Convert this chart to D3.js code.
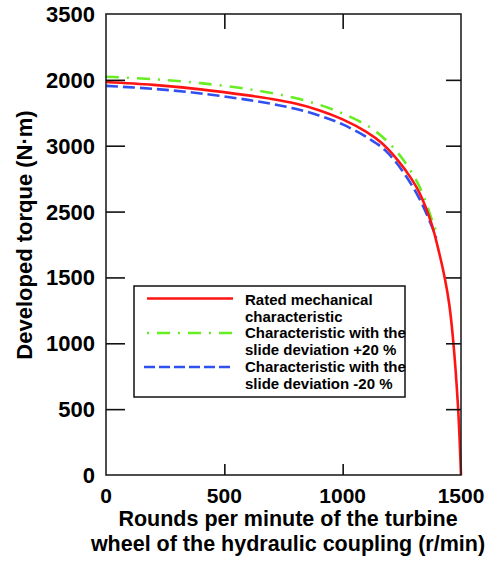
<!DOCTYPE html>
<html><head><meta charset="utf-8">
<script src="https://cdn.jsdelivr.net/npm/d3@7"></script>
<style>body{margin:0;background:#fff}svg{display:block}text{font-family:"Liberation Sans",Arial,sans-serif;fill:#000}</style>
</head><body><div id="chart"></div>
<script>
// ---- data ----
const xTicks = [0, 500, 1000, 1500];
const yTickValues = [0, 500, 1000, 1500, 2000, 2500, 3000, 3500];
const yTickLabels = ["0", "500", "1000", "1500", "2500", "3000", "2000", "3500"];
const rpmRated = [0, 200, 400, 600, 700, 800, 900, 1000, 1100, 1165, 1235, 1290, 1325, 1375, 1410, 1432, 1450, 1466, 1487, 1500];
const torqueRated = [2984, 2962, 2928, 2882, 2855, 2820, 2770, 2700, 2605, 2520, 2385, 2250, 2140, 1911, 1670, 1490, 1300, 1040, 530, 0];
const rpmPlus = [0, 200, 400, 600, 700, 800, 900, 1000, 1115, 1190, 1255, 1327, 1382, 1395];
const torquePlus = [3024, 3005, 2975, 2930, 2900, 2862, 2812, 2745, 2640, 2530, 2395, 2180, 1913, 1850];
const rpmMinus = [0, 200, 400, 600, 700, 800, 900, 1000, 1115, 1180, 1256, 1327, 1383, 1395];
const torqueMinus = [2954, 2932, 2897, 2848, 2818, 2780, 2730, 2662, 2550, 2465, 2300, 2088, 1860, 1800];
const legendLabels = [["Rated mechanical", "characteristic"], ["Characteristic with the", "slide deviation +20 %"], ["Characteristic with the", "slide deviation -20 %"]];
const xTitle = ["Rounds per minute of the turbine", "wheel of the hydraulic coupling (r/min)"];
const yTitle = "Developed torque (N\u00B7m)";

const series = [
  {x: rpmRated, y: torqueRated, color: "#ff1414", dash: null, legendDash: null},
  {x: rpmPlus, y: torquePlus, color: "#66ee22", dash: "13,8,2,8", legendDash: "2,8,13,8"},
  {x: rpmMinus, y: torqueMinus, color: "#3050f0", dash: "12,5", legendDash: "11,4"}
];

const W = 493, H = 564;
const L = 106, R = 461, T = 14, B = 475;
const svg = d3.select("#chart").append("svg").attr("width", W).attr("height", H);
const x = d3.scaleLinear().domain([0, 1500]).range([L, R]);
const y = d3.scaleLinear().domain([0, 3500]).range([B, T]);

// curves (drawn first, frame on top)
const line = d3.line().curve(d3.curveCatmullRom.alpha(0.5));
series.slice().reverse().forEach(s => {
  const pts = s.x.map((v, i) => [x(v), y(s.y[i])]);
  svg.append("path").attr("d", line(pts)).attr("fill", "none")
    .attr("stroke", s.color).attr("stroke-width", 2.6)
    .attr("stroke-dasharray", s.dash);
});

// frame
svg.append("rect").attr("x", L).attr("y", T).attr("width", R - L).attr("height", B - T)
  .attr("fill", "none").attr("stroke", "#222").attr("stroke-width", 1.6);

// axes ticks (inward)
const inner = yTickValues.filter(v => v > 0 && v < 3500);
const leftAx = d3.axisLeft(y).tickValues(inner).tickSize(-19).tickFormat("");
const rightAx = d3.axisRight(y).tickValues(inner).tickSize(-15).tickFormat("");
const botAx = d3.axisBottom(x).tickValues([500, 1000]).tickSize(-11).tickFormat("");
const topAx = d3.axisTop(x).tickValues([500, 1000]).tickSize(-15).tickFormat("");
[[leftAx, `translate(${L},0)`], [rightAx, `translate(${R},0)`], [botAx, `translate(0,${B})`], [topAx, `translate(0,${T})`]].forEach(([ax, tr]) => {
  const g = svg.append("g").attr("transform", tr).call(ax);
  g.select(".domain").remove();
  g.selectAll(".tick line").attr("stroke", "#111").attr("stroke-width", 1.6);
});

// tick labels
svg.append("g").selectAll("text").data(yTickValues).join("text")
  .attr("x", 95).attr("y", d => y(d) + 8).attr("text-anchor", "end")
  .attr("font-size", 22).attr("font-weight", "bold")
  .text((d, i) => yTickLabels[i]);
svg.append("g").selectAll("text").data(xTicks).join("text")
  .attr("x", d => x(d)).attr("y", 503).attr("text-anchor", "middle")
  .attr("font-size", 21).attr("font-weight", "bold")
  .text(d => d);

// axis titles
svg.append("g").selectAll("text").data(xTitle).join("text")
  .attr("x", 288).attr("y", (d, i) => 526 + i * 25).attr("text-anchor", "middle")
  .attr("font-size", 21.5).attr("font-weight", "bold").text(d => d);
svg.append("text").attr("transform", "translate(32,235) rotate(-90)")
  .attr("text-anchor", "middle").attr("font-size", 22).attr("font-weight", "bold").text(yTitle);

// legend
const lg = svg.append("g");
lg.append("rect").attr("x", 134).attr("y", 286).attr("width", 271).attr("height", 111)
  .attr("fill", "#fff").attr("stroke", "#111").attr("stroke-width", 1.5);
const lineYs = [298.5, 333, 367];
series.forEach((s, i) => {
  lg.append("line").attr("x1", i === 2 ? 144 : 147).attr("x2", 233).attr("y1", lineYs[i]).attr("y2", lineYs[i])
    .attr("stroke", s.color).attr("stroke-width", 2.6).attr("stroke-dasharray", s.legendDash);
  legendLabels[i].forEach((t, j) => {
    lg.append("text").attr("x", 245).attr("y", 305 + (i * 2 + j) * 16.7)
      .attr("font-size", 15).attr("font-weight", "bold").text(t);
  });
});
</script></body></html>
